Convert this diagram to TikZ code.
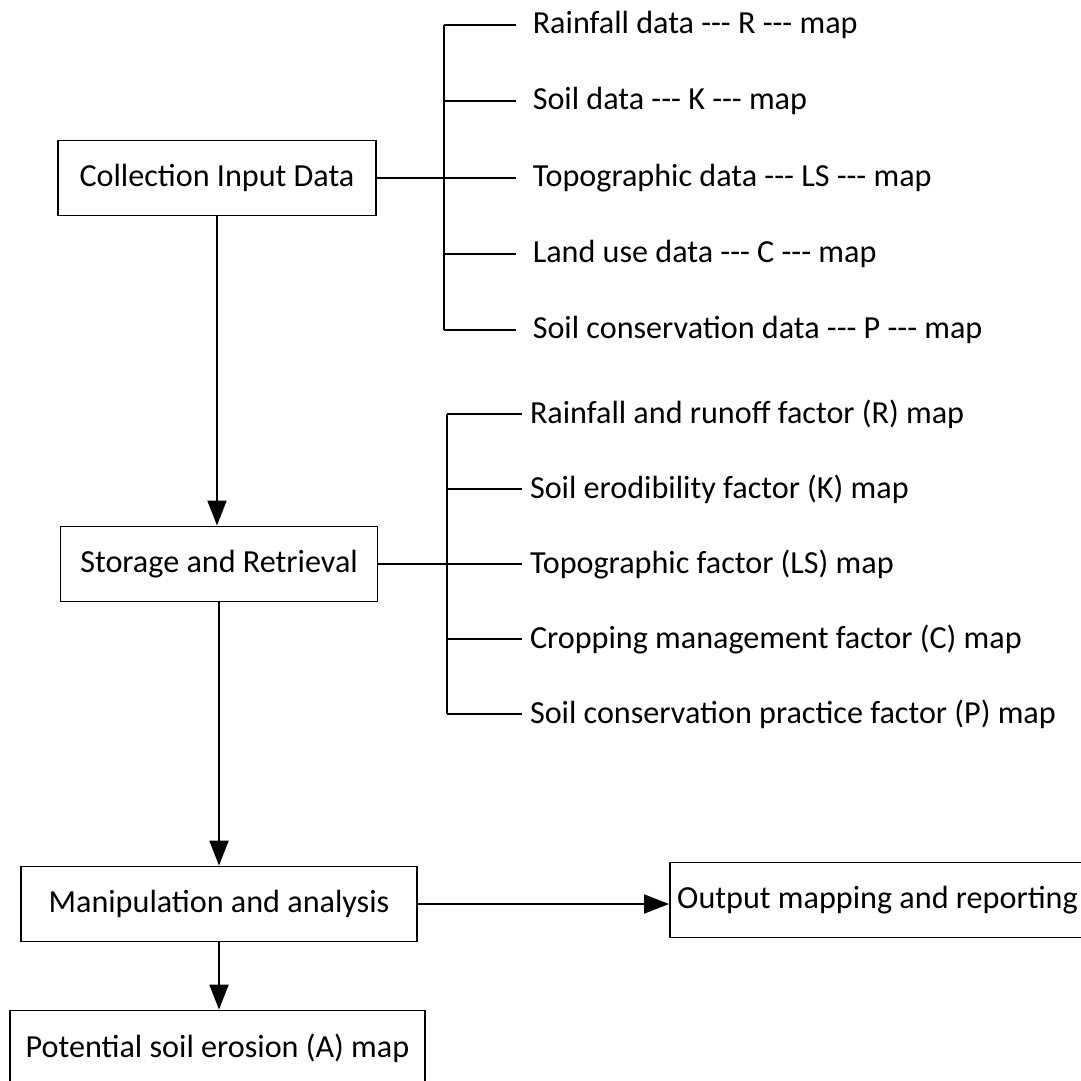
\documentclass[tikz,border=0pt]{standalone}
\usepackage{fontspec}
\setmainfont{Carlito}[Ligatures=TeXOff]
\usetikzlibrary{arrows.meta}

\begin{document}
\begin{tikzpicture}[x=0.02cm, y=-0.02cm, >={Triangle[length=0.5cm, width=0.38cm]}, line width=1.1pt,
    box/.style={draw, inner sep=0pt, minimum height=1.5cm, font=\fontsize{18.3}{22}\selectfont},
    item/.style={anchor=west, inner ysep=0pt, font=\fontsize{18.3}{22}\selectfont}]

    % 画布范围
    \useasboundingbox (0,0) rectangle (1081,1081);

    % 1. 主流程方框
    \node[box, minimum width=6.36cm] (coll) at (217,178) {Collection Input Data};
    \node[box, minimum width=6.34cm] (stor) at (219,564) {Storage and Retrieval};
    \node[box, minimum width=7.92cm] (mani) at (219,904) {Manipulation and analysis};
    \node[box, minimum width=8.30cm] (outp) at (877.5,900) {Output mapping and reporting};
    \node[box, minimum width=8.30cm] (pote) at (217.5,1048) {Potential soil erosion (A) map};

    % 2. 输入数据 (第一组分支)
    \coordinate (br1) at (444,0);
    \foreach \i/\y/\t in {1/25/{Rainfall data --- R --- map},
                          2/101/{Soil data --- K --- map},
                          3/178/{Topographic data --- LS --- map},
                          4/254/{Land use data --- C --- map},
                          5/330/{Soil conservation data --- P --- map}} {
        \node[item, inner xsep=9pt] (data\i) at (516,\y) {\t};
        \draw (data\i.west -| br1) -- (data\i.west);
    }
    \draw (data1.west -| br1) -- (data5.west -| br1);
    \draw (coll.east) -- (coll.east -| br1);

    % 3. 因子图 (第二组分支)
    \coordinate (br2) at (447,0);
    \foreach \i/\y/\t in {1/414/{Rainfall and runoff factor (R) map},
                          2/489/{Soil erodibility factor (K) map},
                          3/564/{Topographic factor (LS) map},
                          4/639/{Cropping management factor (C) map},
                          5/714/{Soil conservation practice factor (P) map}} {
        \node[item, inner xsep=4pt] (fact\i) at (522,\y) {\t};
        \draw (fact\i.west -| br2) -- (fact\i.west);
    }
    \draw (fact1.west -| br2) -- (fact5.west -| br2);
    \draw (stor.east) -- (stor.east -| br2);

    % 4. 箭头
    \draw[->] (coll.south) -- (coll.south |- stor.north);
    \draw[->] (stor.south) -- (stor.south |- mani.north);
    \draw[->] (mani.east) -- (mani.east -| outp.west);
    \draw[->] (mani.south) -- (mani.south |- pote.north);

\end{tikzpicture}
\end{document}
